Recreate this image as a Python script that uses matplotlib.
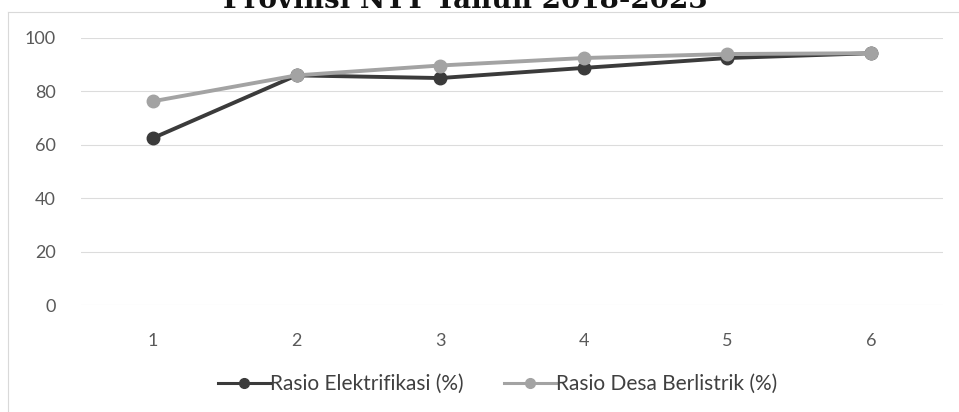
import matplotlib.pyplot as plt
from matplotlib.lines import Line2D

# data
years = [1, 2, 3, 4, 5, 6]
rasio_elektrifikasi = [62.5, 86.0, 85.0, 88.8, 92.5, 94.3]
rasio_desa = [76.3, 86.0, 89.7, 92.5, 94.0, 94.3]
series_labels = ['Rasio Elektrifikasi (%)', 'Rasio Desa Berlistrik (%)']
title = 'Provinsi NTT Tahun 2018-2023'

W, H = 959, 412
fig = plt.figure(figsize=(W / 100, H / 100), dpi=100)

# chart border (top / left edges visible in the scan)
fig.add_artist(Line2D([8 / W, 8 / W], [0, 1 - 12 / H], color='#d9d9d9', lw=0.8))
fig.add_artist(Line2D([8 / W, 1], [1 - 12 / H, 1 - 12 / H], color='#d9d9d9', lw=0.8))

ax = fig.add_axes([81 / W, 1 - 305 / H, (943 - 81) / W, (305 - 38) / H])

dark = '#3b3b3b'
light = '#a3a3a3'
ax.plot(years, rasio_elektrifikasi, color=dark, lw=2.8, marker='o', ms=9,
        label=series_labels[0], zorder=3)
ax.plot(years, rasio_desa, color=light, lw=2.8, marker='o', ms=9,
        label=series_labels[1], zorder=4)

ax.set_xlim(0.5, 6.5)
ax.set_ylim(0, 100)
ax.set_yticks(range(0, 101, 20))
ax.set_xticks(years)
ax.grid(axis='y', color='#dcdcdc', lw=0.8)
ax.set_axisbelow(True)
for s in ax.spines.values():
    s.set_visible(False)
ax.tick_params(length=0, labelsize=13, labelcolor='#595959')
for lbl in ax.get_xticklabels() + ax.get_yticklabels():
    lbl.set_family('Lato')
ax.tick_params(axis='y', pad=18)
ax.tick_params(axis='x', pad=20)

leg = fig.legend(loc='center', bbox_to_anchor=(0.519, 1 - 384 / H), ncol=2,
                 frameon=False, handlelength=2.5, columnspacing=1.9,
                 handletextpad=0.0, prop={'family': 'Lato', 'size': 15})
for t in leg.get_texts():
    t.set_color('#404040')
for ln in leg.get_lines():
    ln.set_linewidth(2.2)
    ln.set_markersize(7)

fig.text(0.485, 1 - 8 / H, title, ha='center', va='baseline',
         family='DejaVu Serif', weight='bold', fontsize=20, color='#111111')

fig.savefig('out.png', dpi=100)
